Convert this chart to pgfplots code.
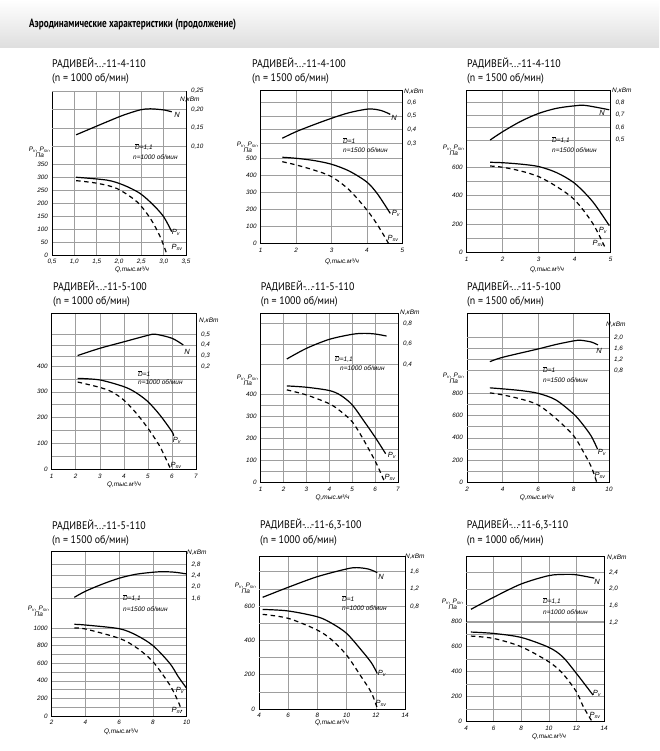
\documentclass[border=0pt]{standalone}
\usepackage{fontspec}
\setmainfont{Liberation Sans}
\newfontfamily\ttlfont{PT Sans}
\usepackage{graphicx}
\usepackage{pgfplots}
\pgfplotsset{compat=1.18}

\newcommand{\tfs}{\fontsize{6.3}{7}\selectfont\itshape}
\newcommand{\lfs}{\fontsize{6.5}{7.2}\selectfont\itshape}
\newcommand{\cfs}{\fontsize{7.5}{8}\selectfont\itshape}
\newcommand{\Pv}{P\textsubscript{v}}
\newcommand{\Psv}{P\textsubscript{sv}}
\newcommand{\Dbar}{\makebox[0pt][l]{\rule[0.8em]{0.62em}{0.3pt}}D}
\newcommand{\ttl}[1]{\scalebox{0.9}[1]{\ttlfont\fontsize{11}{12}\selectfont #1}}

\pgfplotsset{
  base/.style={scale only axis, anchor=south west, clip=false,
    major tick length=0pt, minor tick length=0pt,
    ticklabel style={font=\tfs},
    /pgf/number format/assume math mode=true,
    /pgf/number format/1000 sep={},
    grid style={draw=black!38, line width=0.6pt}},
  lft/.style={base, axis line style={line width=0.7pt},
    xmajorgrids, ymajorgrids, ymin=0,
    extra y tick labels={}, extra y tick style={grid=major},
    xticklabel style={yshift=-1pt}, yticklabel style={xshift=-0.5pt}},
  rgt/.style={base, axis y line*=right, axis x line=none, xtick=\empty,
    axis line style={line width=0.7pt}, ymajorgrids,
    yticklabel style={xshift=1.5pt}},
  pv/.style={black, line width=1.2pt, smooth, no marks},
  psv/.style={black, line width=1.2pt, smooth, no marks, dash pattern=on 4.5pt off 3.5pt},
}

\begin{document}
\begin{tikzpicture}[x=1pt,y=1pt]
\path[use as bounding box] (0pt,0pt) rectangle (659pt,-751pt);
\fill[white] (0pt,0pt) rectangle (659pt,-751pt);
\shade[top color=white, bottom color=black!13] (0pt,0pt) rectangle (659pt,-48pt);
\node[anchor=west, inner sep=0] at (29pt,-25pt) {\resizebox{207pt}{\height}{\ttlfont\bfseries\fontsize{12}{14}\selectfont Аэродинамические характеристики (продолжение)}};

% ---------------- Panel 1 ----------------
\begin{axis}[lft, at={(52pt,-255pt)}, width=134pt, height=164pt,
  xmin=0.5, xmax=3.5, xtick={0.5,1,1.5,2,2.5,3,3.5},
  xticklabels={{0,5},{1,0},{1,5},{2,0},{2,5},{3,0},{3,5}},
  ymax=630.8, ytick={0,50,100,150,200,250,300,350}]
\addplot[pv] coordinates {(1.04,299) (1.73,288) (2.10,269) (2.47,237) (2.77,192) (3.0,147) (3.18,90)};
\addplot[psv] coordinates {(1.04,286) (1.505,276) (1.95,256) (2.40,205) (2.70,141) (2.92,71) (3.07,4)};
\end{axis}
\begin{axis}[rgt, at={(52pt,-255pt)}, width=134pt, height=164pt, xmin=0.5, xmax=3.5,
  ymin=-0.1917, ymax=0.25, ytick={0.10,0.15,0.20,0.25}, yticklabels={{0,10},{0,15},{0,20},{0,25}}]
\addplot[pv] coordinates {(1.04,0.132) (1.73,0.167) (2.10,0.185) (2.47,0.199) (2.70,0.202) (3.0,0.199) (3.18,0.194)};
\end{axis}

% ---------------- Panel 2 ----------------
\begin{axis}[lft, at={(260.7pt,-243.3pt)}, width=141.6pt, height=152.6pt,
  xmin=1, xmax=5, xtick={1,2,3,4,5},
  ymax=897.6, ytick={0,100,200,300,400,500}]
\addplot[pv] coordinates {(1.61,506) (2.0,500) (2.5,487) (3.0,465) (3.5,425) (4.0,360) (4.3,290) (4.66,176)};
\addplot[psv] coordinates {(1.61,480) (2.0,461) (2.5,431) (3.0,392) (3.5,314) (4.0,196) (4.3,108) (4.61,0)};
\end{axis}
\begin{axis}[rgt, at={(260.7pt,-243.3pt)}, width=141.6pt, height=152.6pt, xmin=1, xmax=5,
  ymin=-0.4317, ymax=0.6849, ytick={0.3,0.4,0.5,0.6}, yticklabels={{0,3},{0,4},{0,5},{0,6}}]
\addplot[pv] coordinates {(1.61,0.337) (2.0,0.385) (2.5,0.436) (3.0,0.483) (3.5,0.524) (4.05,0.551) (4.4,0.54) (4.66,0.512)};
\end{axis}

% ---------------- Panel 3 ----------------
\begin{axis}[lft, at={(466.7pt,-252.3pt)}, width=144pt, height=161.6pt,
  xmin=1, xmax=5, xtick={1,2,3,4,5},
  ymax=1136.5, ytick={0,200,400,600}, extra y ticks={100,300,500}]
\addplot[pv] coordinates {(1.65,633) (2.0,630) (2.5,620) (3.0,603) (3.5,560) (4.0,485) (4.5,356) (4.96,188)};
\addplot[psv] coordinates {(1.65,607) (2.0,598) (2.5,572) (3.0,532) (3.5,462) (4.0,368) (4.5,204) (4.85,30)};
\end{axis}
\begin{axis}[rgt, at={(466.7pt,-252.3pt)}, width=144pt, height=161.6pt, xmin=1, xmax=5,
  ymin=-0.4027, ymax=0.8965, ytick={0.5,0.6,0.7,0.8}, yticklabels={{0,5},{0,6},{0,7},{0,8}}]
\addplot[pv] coordinates {(1.65,0.50) (2.0,0.567) (2.5,0.65) (3.0,0.714) (3.5,0.755) (4.0,0.775) (4.3,0.778) (4.96,0.743)};
\end{axis}

% ---------------- Panel 4 ----------------
\begin{axis}[lft, at={(51.7pt,-469.3pt)}, width=144.3pt, height=156pt,
  xmin=1, xmax=7, xtick={1,2,3,4,5,6,7},
  ymax=604, ytick={0,100,200,300,400}, extra y ticks={50,150,250,350}]
\addplot[pv] coordinates {(2.08,352) (3,346) (4,320) (4.5,297) (5,262) (5.5,210) (6,146) (6.07,129)};
\addplot[psv] coordinates {(2.08,338) (3,317) (3.5,300) (4,268) (4.5,219) (5,159) (5.5,88) (5.93,4)};
\end{axis}
\begin{axis}[rgt, at={(51.7pt,-469.3pt)}, width=144.3pt, height=156pt, xmin=1, xmax=7,
  ymin=-0.75, ymax=0.694, ytick={0.2,0.3,0.4,0.5}, yticklabels={{0,2},{0,3},{0,4},{0,5}}]
\addplot[pv] coordinates {(2.08,0.303) (3,0.37) (4,0.43) (5,0.49) (5.32,0.50) (6,0.463) (6.47,0.401)};
\end{axis}

% ---------------- Panel 5 ----------------
\begin{axis}[lft, at={(260.7pt,-482.3pt)}, width=137.3pt, height=169pt,
  xmin=1, xmax=7, xtick={1,2,3,4,5,6,7},
  ymax=768, ytick={0,100,200,300,400}, extra y ticks={50,150,250,350}]
\addplot[pv] coordinates {(2.14,438) (3,432) (4,417) (4.5,395) (5,352) (5.5,280) (6,205) (6.46,130)};
\addplot[psv] coordinates {(2.14,420) (3,397) (4,357) (4.5,322) (5,275) (5.43,205) (6.02,93) (6.41,3)};
\end{axis}
\begin{axis}[rgt, at={(260.7pt,-482.3pt)}, width=137.3pt, height=169pt, xmin=1, xmax=7,
  ymin=-0.751, ymax=0.898, ytick={0.4,0.6,0.8}, yticklabels={{0,4},{0,6},{0,8}}]
\addplot[pv] coordinates {(2.14,0.452) (3,0.556) (4,0.644) (5,0.693) (5.51,0.702) (6,0.696) (6.5,0.676)};
\end{axis}

% ---------------- Panel 6 ----------------
\begin{axis}[lft, at={(467pt,-482.3pt)}, width=142pt, height=169pt,
  xmin=2, xmax=10, xtick={2,4,6,8,10},
  ymax=1519, ytick={0,200,400,600,800}, extra y ticks={100,300,500,700}]
\addplot[pv] coordinates {(3.29,849) (4,840) (5,825) (6,800) (7,741) (8,615) (8.5,525) (9,415) (9.35,300)};
\addplot[psv] coordinates {(3.29,804) (4,786) (5,750) (6,696) (7,575) (8,420) (8.5,290) (9,140) (9.3,5)};
\end{axis}
\begin{axis}[rgt, at={(467pt,-482.3pt)}, width=142pt, height=169pt, xmin=2, xmax=10,
  ymin=-3.21, ymax=2.862, ytick={0.8,1.2,1.6,2.0}, yticklabels={{0,8},{1,2},{1,6},{2,0}}]
\addplot[pv] coordinates {(3.29,1.124) (4,1.28) (6,1.58) (7,1.74) (8,1.87) (8.4,1.893) (9,1.83) (9.38,1.725)};
\end{axis}

% ---------------- Panel 7 ----------------
\begin{axis}[lft, at={(51.7pt,-716pt)}, width=135pt, height=164.3pt,
  xmin=2, xmax=10, xtick={2,4,6,8,10},
  ymax=1867, ytick={0,200,400,600,800,1000}, extra y ticks={100,300,500,700,900}]
\addplot[pv] coordinates {(3.34,1042) (4,1034) (6,992) (7,920) (8,800) (9,598) (9.5,447) (10,314)};
\addplot[psv] coordinates {(3.34,1000) (4,989) (6,883) (7,780) (8,617) (9,352) (9.5,163) (9.7,60)};
\end{axis}
\begin{axis}[rgt, at={(51.7pt,-716pt)}, width=135pt, height=164.3pt, xmin=2, xmax=10,
  ymin=-2.554, ymax=3.245, ytick={1.6,2.0,2.4,2.8}, yticklabels={{1,6},{2,0},{2,4},{2,8}}]
\addplot[pv] coordinates {(3.34,1.635) (4,1.85) (5,2.1) (6,2.31) (7,2.45) (8,2.52) (8.6,2.54) (9.3,2.52) (10,2.46)};
\end{axis}

% ---------------- Panel 8 ----------------
\begin{axis}[lft, at={(259pt,-709pt)}, width=146pt, height=152.3pt,
  xmin=4, xmax=14, xtick={4,6,8,10,12,14},
  ymax=890, ytick={0,200,400,600}, extra y ticks={100,300,500}]
\addplot[pv] coordinates {(4.25,582) (6,573) (8,539) (9,500) (10,442) (11,345) (11.7,270) (12.1,208)};
\addplot[psv] coordinates {(4.25,553) (6,530) (8,461) (9,403) (10,315) (11,189) (11.7,95) (12.1,5)};
\end{axis}
\begin{axis}[rgt, at={(259pt,-709pt)}, width=146pt, height=152.3pt, xmin=4, xmax=14,
  ymin=-1.516, ymax=1.93, ytick={0.8,1.2,1.6}, yticklabels={{0,8},{1,2},{1,6}}]
\addplot[pv] coordinates {(4.25,1.011) (6,1.238) (8,1.479) (10,1.653) (10.7,1.683) (11.5,1.65) (12.1,1.57)};
\end{axis}

% ---------------- Panel 9 ----------------
\begin{axis}[lft, at={(466pt,-721.7pt)}, width=138pt, height=165pt,
  xmin=4, xmax=14, xtick={4,6,8,10,12,14},
  ymax=1316, ytick={0,200,400,600,800}, extra y ticks={100,300,500,700}]
\addplot[pv] coordinates {(4.36,715) (6,704) (8,672) (10,593) (11,518) (12,385) (13.2,213)};
\addplot[psv] coordinates {(4.36,683) (6,664) (8,598) (10,478) (11,385) (12,239) (12.5,120) (13.1,8)};
\end{axis}
\begin{axis}[rgt, at={(466pt,-721.7pt)}, width=138pt, height=165pt, xmin=4, xmax=14,
  ymin=-1.185, ymax=2.774, ytick={1.2,1.6,2.0,2.4}, yticklabels={{1,2},{1,6},{2,0},{2,4}}]
\addplot[pv] coordinates {(4.36,1.512) (6,1.8) (8,2.12) (10,2.32) (11.2,2.35) (12,2.34) (13.3,2.26)};
\end{axis}

% ---------------- Titles ----------------
\begin{scope}[every node/.style={anchor=west, inner sep=0}]
\node at (52pt,-63pt) {\ttl{РАДИВЕЙ-...-11-4-110}};
\node at (52pt,-79pt) {\ttl{(n = 1000 об/мин)}};
\node at (252pt,-63pt) {\ttl{РАДИВЕЙ-...-11-4-100}};
\node at (252pt,-79pt) {\ttl{(n = 1500 об/мин)}};
\node at (467pt,-63pt) {\ttl{РАДИВЕЙ-...-11-4-110}};
\node at (467pt,-79pt) {\ttl{(n = 1500 об/мин)}};
\node at (53pt,-286pt) {\ttl{РАДИВЕЙ-...-11-5-100}};
\node at (53pt,-302pt) {\ttl{(n = 1000 об/мин)}};
\node at (260.7pt,-286pt) {\ttl{РАДИВЕЙ-...-11-5-110}};
\node at (260.7pt,-302pt) {\ttl{(n = 1000 об/мин)}};
\node at (467pt,-286pt) {\ttl{РАДИВЕЙ-...-11-5-100}};
\node at (467pt,-302pt) {\ttl{(n = 1500 об/мин)}};
\node at (52pt,-525pt) {\ttl{РАДИВЕЙ-...-11-5-110}};
\node at (52pt,-541pt) {\ttl{(n = 1500 об/мин)}};
\node at (260pt,-525pt) {\ttl{РАДИВЕЙ-...-11-6,3-100}};
\node at (260pt,-541pt) {\ttl{(n = 1000 об/мин)}};
\node at (466.7pt,-525pt) {\ttl{РАДИВЕЙ-...-11-6,3-110}};
\node at (466.7pt,-541pt) {\ttl{(n = 1000 об/мин)}};
\end{scope}

% ---------------- axis labels ----------------
\begin{scope}[every node/.style={font=\lfs, inner sep=0}]
\node at (132pt,-270pt) {Q,тыс.м³/ч};
\node at (342pt,-262pt) {Q,тыс.м³/ч};
\node at (547pt,-270pt) {Q,тыс.м³/ч};
\node at (124pt,-485pt) {Q,тыс.м³/ч};
\node at (332.5pt,-498pt) {Q,тыс.м³/ч};
\node at (536.7pt,-498pt) {Q,тыс.м³/ч};
\node at (121pt,-731.7pt) {Q,тыс.м³/ч};
\node at (332pt,-723pt) {Q,тыс.м³/ч};
\node at (549pt,-736.7pt) {Q,тыс.м³/ч};
\node[anchor=east, align=center] at (51pt,-152pt) {\Pv, \Psv,\\[-1.5pt] Па};
\node[anchor=east, align=center] at (259pt,-147pt) {\Pv, \Psv,\\[-1.5pt] Па};
\node[anchor=east, align=center] at (465pt,-150pt) {\Pv, \Psv,\\[-1.5pt] Па};
\node[anchor=east, align=center] at (259pt,-380pt) {\Pv, \Psv,\\[-1.5pt] Па};
\node[anchor=east, align=center] at (465pt,-378pt) {\Pv, \Psv,\\[-1.5pt] Па};
\node[anchor=east, align=center] at (50pt,-611pt) {\Pv, \Psv,\\[-1.5pt] Па};
\node[anchor=east, align=center] at (257pt,-588pt) {\Pv, \Psv,\\[-1.5pt] Па};
\node[anchor=east, align=center] at (464pt,-604pt) {\Pv, \Psv,\\[-1.5pt] Па};
\node[anchor=west] at (180pt,-100pt) {N,кВт};
\node[anchor=west] at (404pt,-92pt) {N,кВт};
\node[anchor=west] at (612pt,-91pt) {N,кВт};
\node[anchor=west] at (199pt,-321pt) {N,кВт};
\node[anchor=west] at (400pt,-313pt) {N,кВт};
\node[anchor=west] at (606pt,-325pt) {N,кВт};
\node[anchor=west] at (187pt,-553pt) {N,кВт};
\node[anchor=west] at (405pt,-557pt) {N,кВт};
\node[anchor=west] at (607pt,-558pt) {N,кВт};
\node[anchor=west] at (135pt,-147pt) {\Dbar=1,1};
\node[anchor=west] at (133pt,-157pt) {n=1000 об/мин};
\node[anchor=west] at (343pt,-141pt) {\Dbar=1};
\node[anchor=west] at (343pt,-150pt) {n=1500 об/мин};
\node[anchor=west] at (552pt,-140pt) {\Dbar=1,1};
\node[anchor=west] at (552pt,-150pt) {n=1500 об/мин};
\node[anchor=west] at (138pt,-374pt) {\Dbar=1};
\node[anchor=west] at (138pt,-382pt) {n=1000 об/мин};
\node[anchor=west] at (335pt,-359pt) {\Dbar=1,1};
\node[anchor=west] at (340pt,-368pt) {n=1000 об/мин};
\node[anchor=west] at (543pt,-370pt) {\Dbar=1};
\node[anchor=west] at (543pt,-380pt) {n=1500 об/мин};
\node[anchor=west] at (123pt,-598pt) {\Dbar=1,1};
\node[anchor=west] at (123pt,-609pt) {n=1500 об/мин};
\node[anchor=west] at (342pt,-599pt) {\Dbar=1};
\node[anchor=west] at (342pt,-608pt) {n=1000 об/мин};
\node[anchor=west] at (543pt,-601pt) {\Dbar=1,1};
\node[anchor=west] at (543pt,-612pt) {n=1000 об/мин};
\end{scope}

% ---------------- curve labels ----------------
\begin{scope}[every node/.style={font=\cfs, inner sep=0}]
\node at (177pt,-115pt) {N};  \node at (176pt,-232pt) {\Pv}; \node at (177pt,-247pt) {\Psv};
\node at (394pt,-118pt) {N};  \node at (396pt,-213pt) {\Pv}; \node at (393pt,-238pt) {\Psv};
\node at (602pt,-113pt) {N};  \node at (603pt,-230pt) {\Pv}; \node at (598pt,-243pt) {\Psv};
\node at (187pt,-352pt) {N};  \node at (177pt,-440pt) {\Pv}; \node at (176pt,-465pt) {\Psv};
\node at (392pt,-455pt) {\Pv}; \node at (390pt,-477pt) {\Psv};
\node at (599pt,-351pt) {N};  \node at (602pt,-452pt) {\Pv}; \node at (600pt,-475pt) {\Psv};
\node at (180pt,-690pt) {\Pv}; \node at (177pt,-710pt) {\Psv};
\node at (381pt,-577pt) {N};  \node at (382pt,-673pt) {\Pv}; \node at (381pt,-703pt) {\Psv};
\node at (597pt,-582pt) {N};  \node at (597pt,-693pt) {\Pv}; \node at (595pt,-715pt) {\Psv};
\end{scope}
\end{tikzpicture}
\end{document}
